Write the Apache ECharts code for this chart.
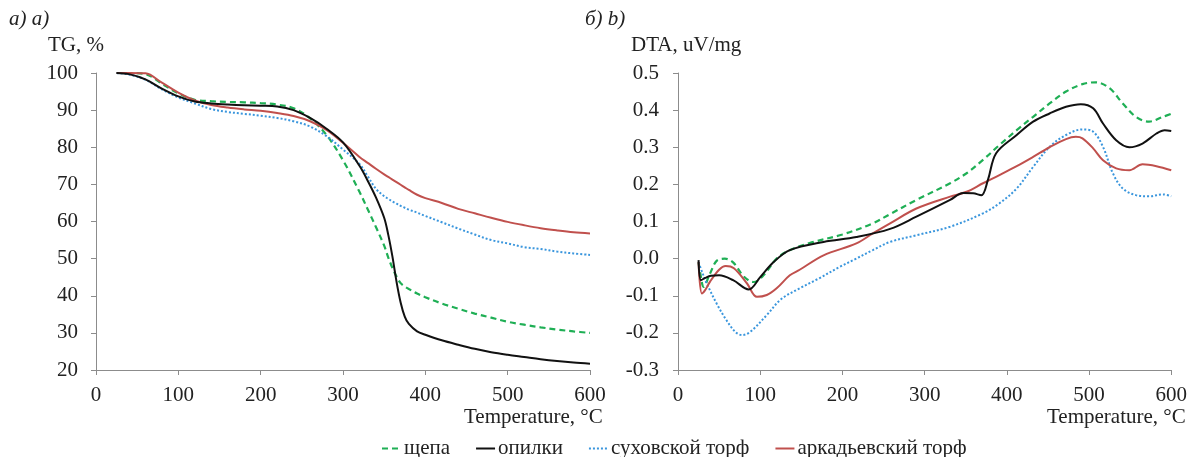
<!DOCTYPE html>
<html>
<head>
<meta charset="utf-8">
<script src="https://cdn.jsdelivr.net/npm/echarts@6/dist/echarts.min.js"></script>
<style>html,body{margin:0;padding:0;background:#fff}#c{width:1190px;height:457px}</style>
</head>
<body>
<div id="c"></div>
<script>
// ---- data ----
const seriesNames = ['щепа', 'опилки', 'суховской торф', 'аркадьевский торф'];
const xTicks = [0, 100, 200, 300, 400, 500, 600];

// TG (%) on a common temperature grid
const tgTemp = [25, 40, 60, 80, 100, 120, 140, 160, 180, 200, 220, 240, 260, 280, 300, 320, 330, 340, 350, 355, 360, 365, 370, 375, 380, 390, 400, 420, 440, 460, 480, 500, 520, 540, 560, 580, 600];
const tgShchepa = [100, 100, 99.7, 97.1, 94.5, 92.8, 92.4, 92.2, 92.1, 91.9, 91.5, 90.5, 87.8, 83.3, 76.5, 68, 63.3, 58.5, 53.5, 50.3, 47.5, 45.2, 43.4, 42.5, 41.8, 40.6, 39.6, 37.9, 36.5, 35.2, 34.1, 33.0, 32.2, 31.5, 30.9, 30.4, 30.0];
const tgOpilki = [100, 99.7, 98.3, 95.8, 93.7, 92.3, 91.8, 91.5, 91.3, 91.2, 91.0, 90.0, 87.9, 85.0, 81.3, 75, 71.0, 66.5, 61.0, 56.4, 50.6, 43.8, 38.2, 34.4, 32.4, 30.4, 29.5, 28, 26.8, 25.7, 24.8, 24.1, 23.5, 22.9, 22.4, 22.0, 21.7];
const tgSukhov = [100, 99.6, 98.2, 95.6, 93.4, 91.8, 90.3, 89.5, 89.0, 88.5, 87.9, 87.0, 85.6, 83.0, 79.4, 75.5, 72.2, 68.8, 66.8, 66.1, 65.4, 64.8, 64.2, 63.7, 63.2, 62.4, 61.5, 59.8, 58.1, 56.5, 55.0, 54.1, 53.1, 52.6, 51.9, 51.4, 51.0];
const tgArkad = [100, 100, 99.9, 97.4, 94.7, 92.6, 91.4, 90.7, 90.2, 89.8, 89.2, 88.4, 87.0, 84.7, 81.2, 77.4, 75.8, 74.2, 72.7, 72.0, 71.3, 70.6, 69.9, 69.2, 68.5, 67.2, 66.3, 65.0, 63.4, 62.2, 61.0, 59.9, 59.0, 58.2, 57.6, 57.1, 56.8];

// DTA (uV/mg), [temperature, value] pairs
const dtaShchepa = [[25,-0.01],[28,-0.05],[31,-0.076],[39,-0.04],[47,-0.006],[57,0.0],[67,-0.01],[80,-0.048],[92,-0.063],[104,-0.045],[120,0.0],[135,0.022],[160,0.042],[200,0.065],[237,0.095],[258,0.12],[290,0.158],[331,0.203],[351,0.23],[371,0.266],[391,0.306],[412,0.346],[432,0.382],[452,0.418],[472,0.45],[492,0.47],[508,0.475],[525,0.459],[541,0.418],[557,0.382],[573,0.369],[590,0.382],[600,0.39]];
const dtaOpilki = [[25,-0.004],[28,-0.058],[33,-0.052],[40,-0.046],[50,-0.045],[67,-0.058],[86,-0.083],[100,-0.05],[116,-0.01],[136,0.023],[177,0.045],[217,0.058],[258,0.08],[290,0.113],[331,0.158],[347,0.177],[359,0.176],[369,0.171],[377,0.212],[387,0.284],[412,0.333],[432,0.369],[452,0.391],[472,0.409],[490,0.416],[505,0.405],[517,0.364],[533,0.319],[549,0.3],[565,0.31],[582,0.337],[592,0.346],[600,0.344]];
const dtaSukhov = [[25,-0.01],[30,-0.04],[35,-0.067],[47,-0.121],[59,-0.166],[70,-0.198],[78,-0.206],[88,-0.197],[108,-0.152],[125,-0.11],[148,-0.08],[170,-0.055],[197,-0.022],[215,-0.002],[237,0.023],[258,0.045],[290,0.063],[331,0.086],[371,0.122],[391,0.149],[412,0.189],[432,0.247],[452,0.301],[472,0.333],[492,0.348],[505,0.342],[517,0.301],[529,0.23],[541,0.189],[557,0.171],[573,0.168],[590,0.173],[600,0.168]];
const dtaArkad = [[25,-0.009],[29,-0.094],[33,-0.085],[39,-0.062],[50,-0.03],[58,-0.02],[68,-0.026],[84,-0.067],[96,-0.103],[108,-0.098],[120,-0.08],[136,-0.045],[148,-0.03],[177,0.009],[217,0.041],[237,0.068],[258,0.095],[290,0.135],[331,0.167],[351,0.18],[371,0.203],[391,0.225],[412,0.249],[432,0.274],[452,0.3],[472,0.322],[484,0.328],[492,0.324],[505,0.297],[517,0.265],[533,0.243],[549,0.238],[565,0.254],[582,0.249],[600,0.238]];

// ---- styling ----
const FONT = '"Liberation Serif", "Times New Roman", serif';
const FS = 21;
const colors = ['#1faf55', '#111111', '#3a96dd', '#c0504d'];
const lineTypes = [[6, 4], 'solid', [2, 2], 'solid'];
const widths = [2.2, 2, 2, 2];

function pair(xs, ys) { return xs.map((x, i) => [x, ys[i]]); }

const tgData = [tgShchepa, tgOpilki, tgSukhov, tgArkad].map(v => pair(tgTemp, v));
const dtaData = [dtaShchepa, dtaOpilki, dtaSukhov, dtaArkad];

function mkSeries(dataArr, idx) {
  return dataArr.map((d, i) => ({
    name: seriesNames[i], type: 'line', xAxisIndex: idx, yAxisIndex: idx,
    data: d, smooth: 0.35, symbol: 'none', showSymbol: false,
    lineStyle: { color: colors[i], width: widths[i], type: lineTypes[i] },
    itemStyle: { color: colors[i] }, z: i === 1 ? 4 : 3
  }));
}

const axisCommon = {
  axisLine: { show: true, onZero: false, lineStyle: { color: '#8c8c8c', width: 1 } },
  axisTick: { show: true, inside: false, length: 5, lineStyle: { color: '#8c8c8c' } },
  splitLine: { show: false },
  axisLabel: { color: '#222', fontFamily: FONT, fontSize: FS }
};

function xAxis(gi) {
  return Object.assign({}, axisCommon, {
    type: 'value', gridIndex: gi, min: 0, max: 600, interval: 100,
    axisLabel: Object.assign({}, axisCommon.axisLabel, { margin: 15 })
  });
}

const option = {
  animation: false,
  backgroundColor: '#fff',
  grid: [
    { left: 96, width: 494, top: 73, height: 297 },
    { left: 678, width: 494, top: 73, height: 297 }
  ],
  xAxis: [xAxis(0), xAxis(1)],
  yAxis: [
    Object.assign({}, axisCommon, {
      type: 'value', gridIndex: 0, min: 20, max: 100, interval: 10,
      axisLabel: Object.assign({}, axisCommon.axisLabel, { margin: 18 })
    }),
    Object.assign({}, axisCommon, {
      type: 'value', gridIndex: 1, min: -0.3, max: 0.5, interval: 0.1,
      axisLabel: Object.assign({}, axisCommon.axisLabel, { margin: 19, formatter: v => (Math.abs(v) < 1e-9 ? 0 : v).toFixed(1) })
    })
  ],
  legend: {
    data: seriesNames, left: 376, top: 433, itemWidth: 19, itemHeight: 10, itemGap: 25,
    itemStyle: { opacity: 0 },
    textStyle: { fontFamily: FONT, fontSize: FS, color: '#222', padding: [0, 0, 0, -2] }
  },
  graphic: [
    { type: 'text', left: 9, top: 9, style: { text: 'а) a)', font: 'italic ' + FS + 'px ' + FONT, fill: '#222' } },
    { type: 'text', left: 48, top: 35, style: { text: 'TG, %', font: FS + 'px ' + FONT, fill: '#222' } },
    { type: 'text', left: 585, top: 9, style: { text: 'б) b)', font: 'italic ' + FS + 'px ' + FONT, fill: '#222' } },
    { type: 'text', left: 631, top: 35, style: { text: 'DTA, uV/mg', font: FS + 'px ' + FONT, fill: '#222' } },
    { type: 'text', left: 464, top: 407, style: { text: 'Temperature, °C', font: FS + 'px ' + FONT, fill: '#222' } },
    { type: 'text', left: 1047, top: 407, style: { text: 'Temperature, °C', font: FS + 'px ' + FONT, fill: '#222' } }
  ],
  series: mkSeries(tgData, 0).concat(mkSeries(dtaData, 1))
};

const chart = echarts.init(document.getElementById('c'), null, { renderer: 'canvas' });
chart.setOption(option);
</script>
</body>
</html>
